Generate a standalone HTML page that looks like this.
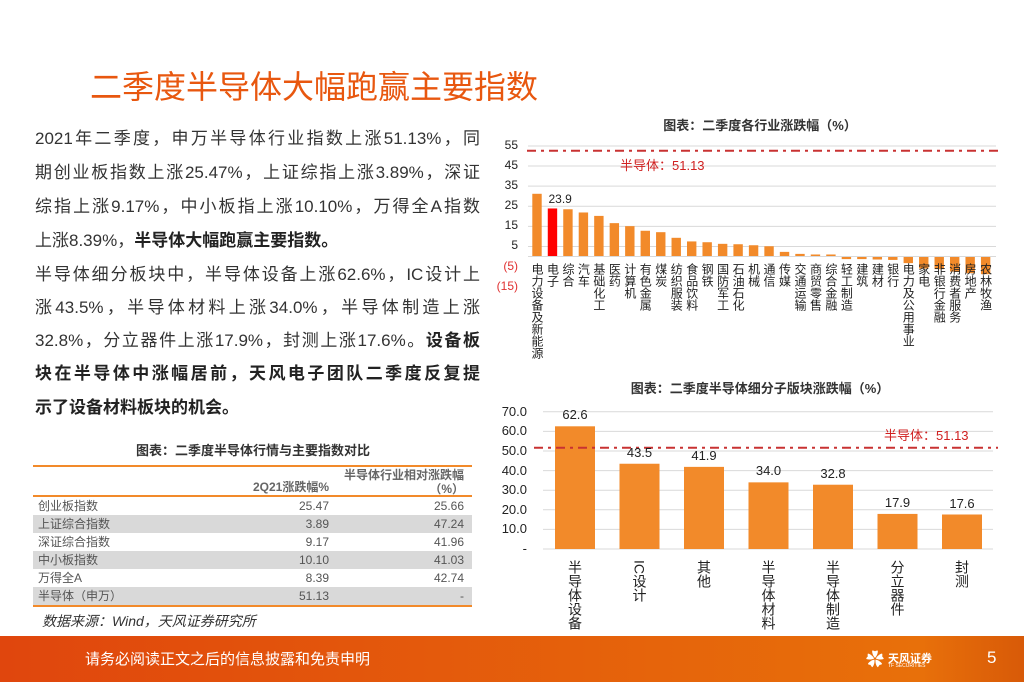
<!DOCTYPE html>
<html><head><meta charset="utf-8">
<style>
*{margin:0;padding:0;box-sizing:border-box}
body{width:1024px;height:682px;position:relative;overflow:hidden;background:#fff;font-family:"Liberation Sans","Noto Sans CJK SC",sans-serif;color:#333}
.abs{position:absolute}
.line{position:absolute;left:35px;width:445px;font-size:17px;white-space:nowrap;text-align:justify;text-align-last:justify;color:#333}
.b{font-weight:bold;color:#222}
table{border-collapse:collapse}
</style></head><body>
<div class="abs" style="left:90px;top:62px;font-size:32px;color:#e8570f;">二季度半导体大幅跑赢主要指数</div>

<div>
<div class="line" style="top:124px">2021年二季度，申万半导体行业指数上涨51.13%，同</div>
<div class="line" style="top:158px">期创业板指数上涨25.47%，上证综指上涨3.89%，深证</div>
<div class="line" style="top:192px">综指上涨9.17%，中小板指上涨10.10%，万得全A指数</div>
<div class="line" style="top:226px;text-align-last:left">上涨8.39%，<span class="b">半导体大幅跑赢主要指数。</span></div>
<div class="line" style="top:260px">半导体细分板块中，半导体设备上涨62.6%，IC设计上</div>
<div class="line" style="top:293px">涨43.5%，半导体材料上涨34.0%，半导体制造上涨</div>
<div class="line" style="top:326px">32.8%，分立器件上涨17.9%，封测上涨17.6%。<span class="b">设备板</span></div>
<div class="line b" style="top:359px">块在半导体中涨幅居前，天风电子团队二季度反复提</div>
<div class="line b" style="top:393px;text-align-last:left">示了设备材料板块的机会。</div>
</div>

<div class="abs" style="left:33px;width:440px;top:440px;text-align:center;font-size:13px;font-weight:bold;color:#333">图表：二季度半导体行情与主要指数对比</div>
<div class="abs" style="left:33px;top:465px;width:439px;font-size:12px;color:#555">
<div style="border-top:2px solid #f28a2a;border-bottom:2px solid #f28a2a;height:32px;position:relative">
<div class="abs" style="right:143px;top:11px;font-weight:bold;color:#666">2Q21涨跌幅%</div>
<div class="abs" style="right:8px;top:1px;font-weight:bold;color:#666;text-align:right;width:140px;line-height:14px">半导体行业相对涨跌幅<br>（%）</div>
</div>
<div id="rows"></div>
<div style="border-top:2px solid #f28a2a"></div>
</div>
<div class="abs" style="left:42px;top:611px;font-size:14px;font-style:italic;color:#333">数据来源：Wind，天风证券研究所</div>

<div class="abs" style="left:600px;width:320px;top:115px;text-align:center;font-size:13px;font-weight:bold;color:#333">图表：二季度各行业涨跌幅（%）</div>
<div class="abs" style="left:560px;width:400px;top:378px;text-align:center;font-size:13px;font-weight:bold;color:#333">图表：二季度半导体细分子版块涨跌幅（%）</div>

<svg id="svg" class="abs" style="left:0;top:0" width="1024" height="682"></svg>
<div id="labels"></div>

<div class="abs" style="left:0;top:636px;width:1024px;height:46px;background:linear-gradient(90deg,#e0460d,#e8700a 90%,#d85a08)"></div>
<div class="abs" style="left:85px;top:648px;font-size:15px;color:#fff">请务必阅读正文之后的信息披露和免责申明</div>
<div class="abs" style="left:866px;top:648px;width:70px;height:24px;color:#fff">
<div class="abs" style="left:0;top:2px;width:18px;height:20px;font-size:18px;line-height:20px">✿</div>
<div class="abs" style="left:22px;top:2px;font-size:11px;font-weight:bold">天风证券</div>
<div class="abs" style="left:22px;top:15px;font-size:5px">TF SECURITIES</div>
</div>
<div class="abs" style="left:987px;top:648px;font-size:17px;color:#fff">5</div>

<script>
const tableNames=["创业板指数","上证综合指数","深证综合指数","中小板指数","万得全A","半导体（申万）"];
const tableQ2=["25.47","3.89","9.17","10.10","8.39","51.13"];
const tableRel=["25.66","47.24","41.96","41.03","42.74","-"];

const indCats=["电力设备及新能源","电子","综合","汽车","基础化工","医药","计算机","有色金属","煤炭","纺织服装","食品饮料","钢铁","国防军工","石油石化","机械","通信","传媒","交通运输","商贸零售","综合金融","轻工制造","建筑","建材","银行","电力及公用事业","家电","非银行金融","消费者服务","房地产","农林牧渔"];
const indVals=[31.2,23.9,23.5,21.9,20.2,16.6,15.1,12.8,12.1,9.3,7.5,7.1,6.3,6.1,5.6,5.1,2.3,1.3,1.0,1.0,-1.3,-1.3,-1.5,-1.7,-3.3,-6.0,-6.3,-7.5,-8.3,-8.8];
const indTicks=[55,45,35,25,15,5,-5,-15];
const indTickLabels=["55","45","35","25","15","5","(5)","(15)"];
const semiRef=51.13;

const subCats=["半导体设备","IC设计","其他","半导体材料","半导体制造","分立器件","封测"];
const subVals=[62.6,43.5,41.9,34.0,32.8,17.9,17.6];
const subTicks=[0,10,20,30,40,50,60,70];
const subTickLabels=["-","10.0","20.0","30.0","40.0","50.0","60.0","70.0"];

const NS="http://www.w3.org/2000/svg";
const svg=document.getElementById('svg');
const lab=document.getElementById('labels');
function mk(tag,attrs){const e=document.createElementNS(NS,tag);for(const k in attrs)e.setAttribute(k,attrs[k]);svg.appendChild(e);return e;}
function div(style,text){const d=document.createElement('div');d.className='abs';d.style.cssText=style;d.textContent=text;lab.appendChild(d);return d;}

const rows=document.getElementById('rows');
tableNames.forEach((n,i)=>{
  const r=document.createElement('div');
  
  
  r.style.cssText='position:relative;height:18px;line-height:18px;'+(i%2?'background:#d9d9d9;':'');
  r.innerHTML='<span class="abs" style="left:5px">'+n+'</span><span class="abs" style="right:143px">'+tableQ2[i]+'</span><span class="abs" style="right:8px">'+tableRel[i]+'</span>';
  rows.appendChild(r);
});

const tX0=537,tStep=15.47,tZero=256.5,tK=2.01;
const ty=v=>tZero-v*tK;
const tx=i=>tX0+i*tStep;
indTicks.forEach((t,i)=>{
  if(t>0){const g=mk('line',{x1:528,x2:996,y1:ty(t),y2:ty(t),stroke:'#d9d9d9','stroke-width':1});}
  const d=div('right:'+(1024-518)+'px;top:'+(ty(t)-8)+'px;font-size:12px;color:'+(t<0?'#e03030':'#222'),indTickLabels[i]);
  
  
});
indVals.forEach((v,i)=>{
  const r=mk('rect',{x:tx(i)-4.7,width:9.4,y:Math.min(ty(v),tZero),height:Math.abs(v)*tK,fill:i===1?'#ff0000':'#f28a2a'});
  
  
  const d=div('left:'+(tx(i)-6)+'px;top:263px;font-size:12px;line-height:12px;width:12px;writing-mode:vertical-rl;white-space:nowrap;color:#222',indCats[i]);
  
  
});
const zl=mk('line',{x1:528,x2:996,y1:tZero,y2:tZero,stroke:'#d9d9d9','stroke-width':1});


const el1=div('left:'+(tx(1)-4)+'px;top:'+(ty(indVals[1])-16)+'px;font-size:12px;color:#222',indVals[1].toFixed(1));


const rl1=mk('line',{x1:527,x2:998,y1:ty(semiRef)-3,y2:ty(semiRef)-3,stroke:'#c83232','stroke-width':2,'stroke-dasharray':'9,5,3,5'});


const rt1=div('left:620px;top:'+(ty(semiRef)+1)+'px;font-size:13px;color:#d02020','半导体：'+semiRef.toFixed(2));



const bX0=575,bStep=64.5,bZero=549,bK=1.96;
const by=v=>bZero-v*bK;
const bx=i=>bX0+i*bStep;
subTicks.forEach((t,i)=>{
  const g=mk('line',{x1:543,x2:993,y1:by(t),y2:by(t),stroke:'#d9d9d9','stroke-width':1});
  
  
  const d=div('right:'+(1024-527)+'px;top:'+(by(t)-8)+'px;font-size:13px;color:#222',subTickLabels[i]);
  
  
});
subVals.forEach((v,i)=>{
  const r=mk('rect',{x:bx(i)-20,width:40,y:by(v),height:v*bK,fill:'#f28a2a'});
  
  
  const t=div('left:'+(bx(i)-30)+'px;width:60px;text-align:center;top:'+(by(v)-19)+'px;font-size:13px;color:#222',v.toFixed(1));
  
  
  const d=div('left:'+(bx(i)-7)+'px;top:560px;font-size:14px;line-height:14px;width:14px;writing-mode:vertical-rl;white-space:nowrap;color:#222',subCats[i]);
  
  
});
const rl2=mk('line',{x1:534,x2:998,y1:by(semiRef)-1,y2:by(semiRef)-1,stroke:'#c83232','stroke-width':2,'stroke-dasharray':'9,5,3,5'});


const rt2=div('left:884px;top:'+(by(semiRef)-24)+'px;font-size:13px;color:#d02020','半导体：'+semiRef.toFixed(2));


</script>
</body></html>
